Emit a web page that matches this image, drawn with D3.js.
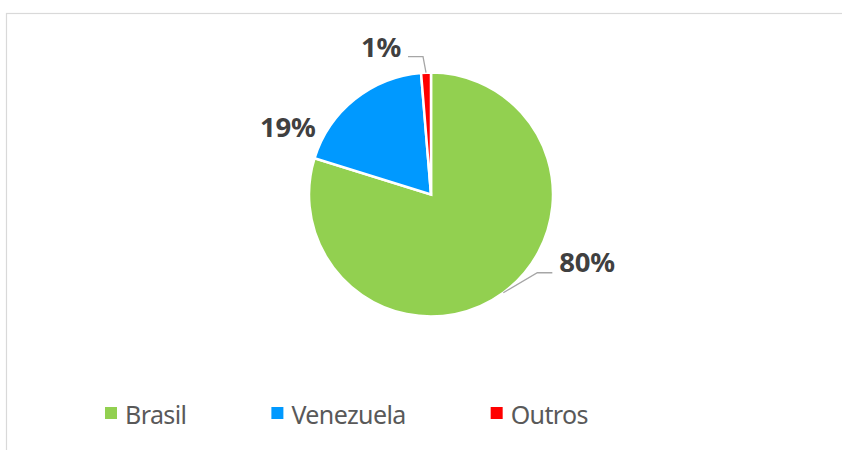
<!DOCTYPE html>
<html>
<head>
<meta charset="utf-8">
<script src="https://cdn.jsdelivr.net/npm/d3@7"></script>
<style>
  body { margin: 0; background: #fff; }
  svg { display: block; }
</style>
</head>
<body>
<div id="chart"></div>
<script>
// --- Données ---
const categories = ["Brasil", "Venezuela", "Outros"];
const values = [79.8, 18.9, 1.3];
const labels = ["80%", "19%", "1%"];
const colors = ["#92D050", "#0099FF", "#FF0000"];

const width = 842;
const height = 450;
const cx = 431, cy = 194.5;
const radius = 122;

// décalage des étiquettes par rapport au bord de la part (ligne de base)
const labelLayout = [
  { dx: 56, dy: -21, anchor: "start", leader: [[34, -20], [49, -20]] },
  { dx: -67, dy: 38, anchor: "middle", leader: null },
  { dx: -45, dy: -16, anchor: "middle", leader: [[-3, -16], [-18, -16]] }
];

const svg = d3.select("#chart")
  .append("svg")
  .attr("width", width)
  .attr("height", height);

// cadre
svg.append("rect")
  .attr("x", 6.5)
  .attr("y", 13.5)
  .attr("width", width)
  .attr("height", height)
  .attr("fill", "none")
  .attr("stroke", "#d9d9d9")
  .attr("stroke-width", 1.2);

const data = categories.map((c, i) => ({ cat: c, value: values[i], label: labels[i], color: colors[i], i: i }));

const pie = d3.pie().sort(null).value(d => d.value);
const arcs = pie(data);

const arc = d3.arc().innerRadius(0).outerRadius(radius);

const g = svg.append("g").attr("transform", `translate(${cx},${cy})`);

g.selectAll("path.slice")
  .data(arcs)
  .enter()
  .append("path")
  .attr("class", "slice")
  .attr("d", arc)
  .attr("fill", d => d.data.color)
  .attr("stroke", "#fff")
  .attr("stroke-width", 2.5)
  .attr("stroke-linejoin", "miter");

// --- Étiquettes ---
arcs.forEach((a, i) => {
  const mid = (a.startAngle + a.endAngle) / 2;
  const ax = radius * Math.sin(mid);
  const ay = -radius * Math.cos(mid);
  const lay = labelLayout[i];

  if (lay.leader) {
    const pts = [[ax, ay]].concat(lay.leader.map(p => [ax + p[0], ay + p[1]]));
    g.append("path")
      .attr("d", d3.line()(pts))
      .attr("fill", "none")
      .attr("stroke", "#a6a6a6")
      .attr("stroke-width", 1.3);
  }

  g.append("text")
    .attr("x", ax + lay.dx)
    .attr("y", ay + lay.dy)
    .attr("text-anchor", lay.anchor)
    .style("font-family", "'Noto Sans', 'Open Sans', sans-serif")
    .style("font-weight", "bold")
    .style("font-size", "27.5px")
    .style("letter-spacing", "-0.3px")
    .attr("fill", "#404040")
    .text(a.data.label);
});

// --- Légende ---
const legend = svg.selectAll(".legend")
  .data(data)
  .enter()
  .append("g")
  .attr("class", "legend");

legend.append("rect")
  .attr("x", 0)
  .attr("y", -6)
  .attr("width", 12)
  .attr("height", 12)
  .attr("fill", d => d.color);

legend.append("text")
  .attr("x", 20)
  .attr("y", 1)
  .attr("dominant-baseline", "central")
  .style("font-family", "'Noto Sans', 'Open Sans', sans-serif")
  .style("font-size", "25px")
  .style("letter-spacing", "-0.6px")
  .attr("fill", "#595959")
  .text(d => d.cat);

// placement selon la largeur des textes
let lx = 105;
legend.each(function() {
  d3.select(this).attr("transform", `translate(${lx},413)`);
  const w = d3.select(this).select("text").node().getComputedTextLength();
  lx += 20 + w + 85;
});
</script>
</body>
</html>
